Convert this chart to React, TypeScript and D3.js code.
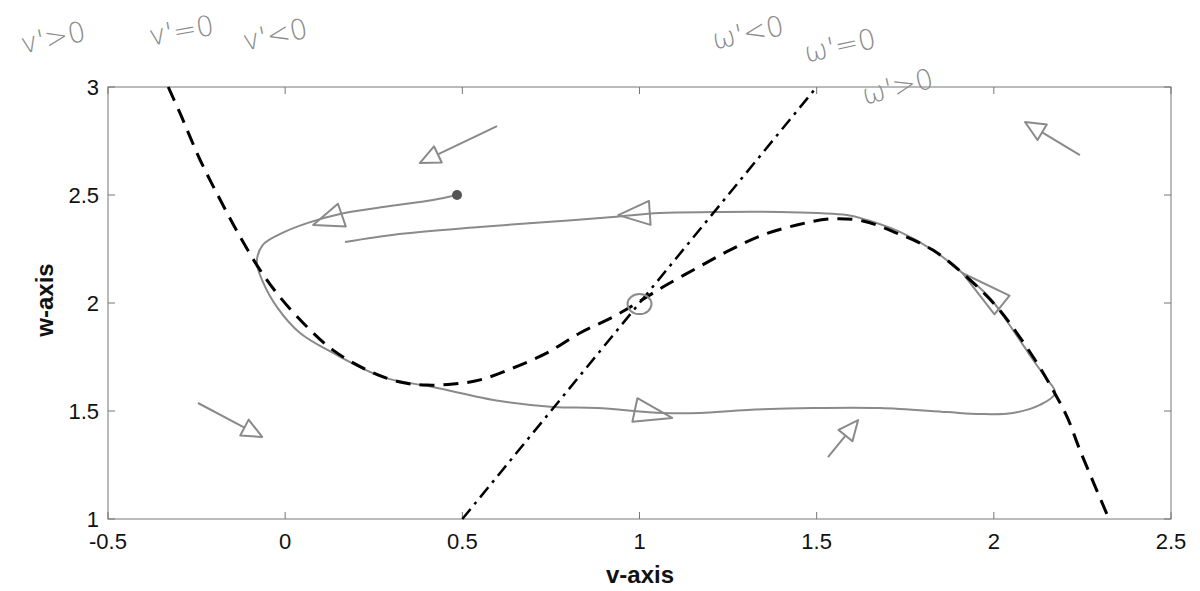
import React from "react";
import * as d3 from "d3";

// v-nullcline (cubic, dashed)
const vNullV = [-0.33, -0.297, -0.24, -0.183, -0.127, -0.071, -0.015, 0.062, 0.135, 0.231, 0.324, 0.4, 0.474, 0.55, 0.643, 0.739, 0.832, 0.925, 0.993, 1.066, 1.162, 1.255, 1.348, 1.444, 1.537, 1.63, 1.726, 1.828, 1.924, 2.009, 2.065, 2.122, 2.167, 2.207, 2.243, 2.325];
const vNullW = [3.0, 2.88, 2.662, 2.477, 2.306, 2.153, 2.028, 1.889, 1.782, 1.69, 1.634, 1.62, 1.625, 1.644, 1.699, 1.769, 1.861, 1.935, 2.0, 2.074, 2.162, 2.245, 2.315, 2.361, 2.389, 2.38, 2.324, 2.245, 2.12, 1.981, 1.861, 1.722, 1.597, 1.472, 1.319, 1.0];

// w-nullcline (straight, dash-dot)
const wNullV = [0.5, 1.5];
const wNullW = [1.0, 3.0];

// hand-drawn trajectory
const trajV = [0.169, 0.322, 0.549, 0.738, 0.925, 1.057, 1.207, 1.396, 1.585, 1.642, 1.735, 1.828, 1.905, 1.989, 2.054, 2.111, 2.145, 2.173, 2.13, 2.054, 1.961, 1.868, 1.679, 1.49, 1.304, 1.171, 1.066, 0.88, 0.756, 0.606, 0.417, 0.276, 0.135, 0.042, -0.023, -0.065, -0.08, -0.063, -0.015, 0.062, 0.155, 0.276, 0.417, 0.485];
const trajW = [2.282, 2.319, 2.352, 2.375, 2.398, 2.417, 2.421, 2.421, 2.407, 2.384, 2.329, 2.245, 2.148, 2.023, 1.875, 1.736, 1.657, 1.583, 1.528, 1.491, 1.486, 1.495, 1.514, 1.514, 1.505, 1.491, 1.491, 1.514, 1.519, 1.546, 1.611, 1.657, 1.769, 1.861, 1.981, 2.106, 2.19, 2.269, 2.319, 2.37, 2.412, 2.444, 2.477, 2.5];

// arrowheads on the trajectory: tip and base centre
const headTipV = [0.079, 0.94, 1.911, 1.092];
const headTipW = [2.361, 2.407, 2.139, 1.468];
const headBaseV = [0.16, 1.029, 2.023, 0.987];
const headBaseW = [2.407, 2.417, 1.991, 1.505];

// free direction arrows: tail -> tip
const arrTailV = [0.598, 2.243, -0.246, 1.532];
const arrTailW = [2.819, 2.685, 1.537, 1.287];
const arrTipV = [0.38, 2.088, -0.065, 1.617];
const arrTipW = [2.648, 2.838, 1.38, 1.458];

// equilibrium
const eqV = 1.0;
const eqW = 1.995;
const endV = 0.485;
const endW = 2.5;

const xTicks = [-0.5, 0, 0.5, 1, 1.5, 2, 2.5];
const xTickLabels = ["-0.5", "0", "0.5", "1", "1.5", "2", "2.5"];
const yTicks = [1, 1.5, 2, 2.5, 3];
const yTickLabels = ["1", "1.5", "2", "2.5", "3"];

const notes = ["v'>0", "v'=0", "v'<0", "ω'<0", "ω'=0", "ω'>0"];

export default function App() {
  const W = 1200, H = 591;
  const x = d3.scaleLinear().domain([-0.5, 2.5]).range([108, 1171]);
  const y = d3.scaleLinear().domain([1, 3]).range([519, 87]);

  const line = d3.line<[number, number]>().x(d => x(d[0])).y(d => y(d[1]));
  const smooth = d3.line<[number, number]>().x(d => x(d[0])).y(d => y(d[1])).curve(d3.curveCatmullRom.alpha(0.5));

  const vNull: [number, number][] = vNullV.map((v, i) => [v, vNullW[i]]);
  const wNull: [number, number][] = wNullV.map((v, i) => [v, wNullW[i]]);
  const traj: [number, number][] = trajV.map((v, i) => [v, trajW[i]]);

  const gray = "#8a8a8a";

  const tri = (tx: number, ty: number, bx: number, by: number, half: number) => {
    const dx = tx - bx, dy = ty - by;
    const L = Math.hypot(dx, dy) || 1;
    const nx = -dy / L, ny = dx / L;
    return `M${tx},${ty}L${bx + nx * half},${by + ny * half}L${bx - nx * half},${by - ny * half}Z`;
  };

  const noteStyle = [
    { x: 55, y: 47, r: -12 },
    { x: 183, y: 40, r: -10 },
    { x: 277, y: 44, r: -12 },
    { x: 750, y: 42, r: -12 },
    { x: 842, y: 55, r: -12 },
    { x: 900, y: 96, r: -14 },
  ];

  return (
    <svg width={W} height={H} style={{ position: "absolute", left: 0, top: 0, background: "#fff" }}
      fontFamily="'Liberation Sans', Arial, sans-serif">
      {/* axes box */}
      <rect x={108} y={87} width={1063} height={432} fill="none" stroke="#777" strokeWidth={1} />
      {xTicks.map((t, i) => (
        <g key={"xt" + i}>
          <line x1={x(t)} x2={x(t)} y1={519} y2={512} stroke="#777" />
          <line x1={x(t)} x2={x(t)} y1={87} y2={94} stroke="#777" />
          <text x={x(t)} y={549} textAnchor="middle" fontSize={22} fill="#111">{xTickLabels[i]}</text>
        </g>
      ))}
      {yTicks.map((t, i) => (
        <g key={"yt" + i}>
          <line x1={108} x2={115} y1={y(t)} y2={y(t)} stroke="#777" />
          <line x1={1171} x2={1164} y1={y(t)} y2={y(t)} stroke="#777" />
          <text x={99} y={y(t) + 8} textAnchor="end" fontSize={22} fill="#111">{yTickLabels[i]}</text>
        </g>
      ))}
      <text x={640} y={583} textAnchor="middle" fontSize={24} fontWeight="bold" fill="#111">v-axis</text>
      <text transform="translate(53,300) rotate(-90)" textAnchor="middle" fontSize={24} fontWeight="bold" fill="#111">w-axis</text>

      {/* trajectory */}
      <path d={smooth(traj) || ""} fill="none" stroke={gray} strokeWidth={2} strokeLinejoin="round" />
      {headTipV.map((v, i) => (
        <path key={"h" + i} d={tri(x(v), y(headTipW[i]), x(headBaseV[i]), y(headBaseW[i]), 12)}
          fill="none" stroke={gray} strokeWidth={2} strokeLinejoin="round" />
      ))}
      <circle cx={x(endV)} cy={y(endW)} r={5} fill="#555" />

      {/* free arrows */}
      {arrTailV.map((v, i) => {
        const tx = x(arrTipV[i]), ty = y(arrTipW[i]);
        const sx = x(v), sy = y(arrTailW[i]);
        const L = Math.hypot(tx - sx, ty - sy);
        const bx = tx - (tx - sx) / L * 20, by = ty - (ty - sy) / L * 20;
        return (
          <g key={"a" + i}>
            <line x1={sx} y1={sy} x2={bx} y2={by} stroke={gray} strokeWidth={2} />
            <path d={tri(tx, ty, bx, by, 9)} fill="none" stroke={gray} strokeWidth={2} strokeLinejoin="round" />
          </g>
        );
      })}

      {/* nullclines */}
      <path d={smooth(vNull) || ""} fill="none" stroke="#000" strokeWidth={3} strokeDasharray="15 9" />
      <path d={line(wNull) || ""} fill="none" stroke="#000" strokeWidth={2.5} strokeDasharray="13 6 3 6" />
      <ellipse cx={x(eqV)} cy={y(eqW)} rx={12} ry={10} fill="none" stroke={gray} strokeWidth={2} />

      {/* handwritten notes */}
      {notes.map((n, i) => (
        <text key={"n" + i} transform={`translate(${noteStyle[i].x},${noteStyle[i].y}) rotate(${noteStyle[i].r})`}
          textAnchor="middle" fontSize={28} fill={gray} fontFamily="'DejaVu Sans', sans-serif" fontWeight={300}>{n}</text>
      ))}
    </svg>
  );
}
